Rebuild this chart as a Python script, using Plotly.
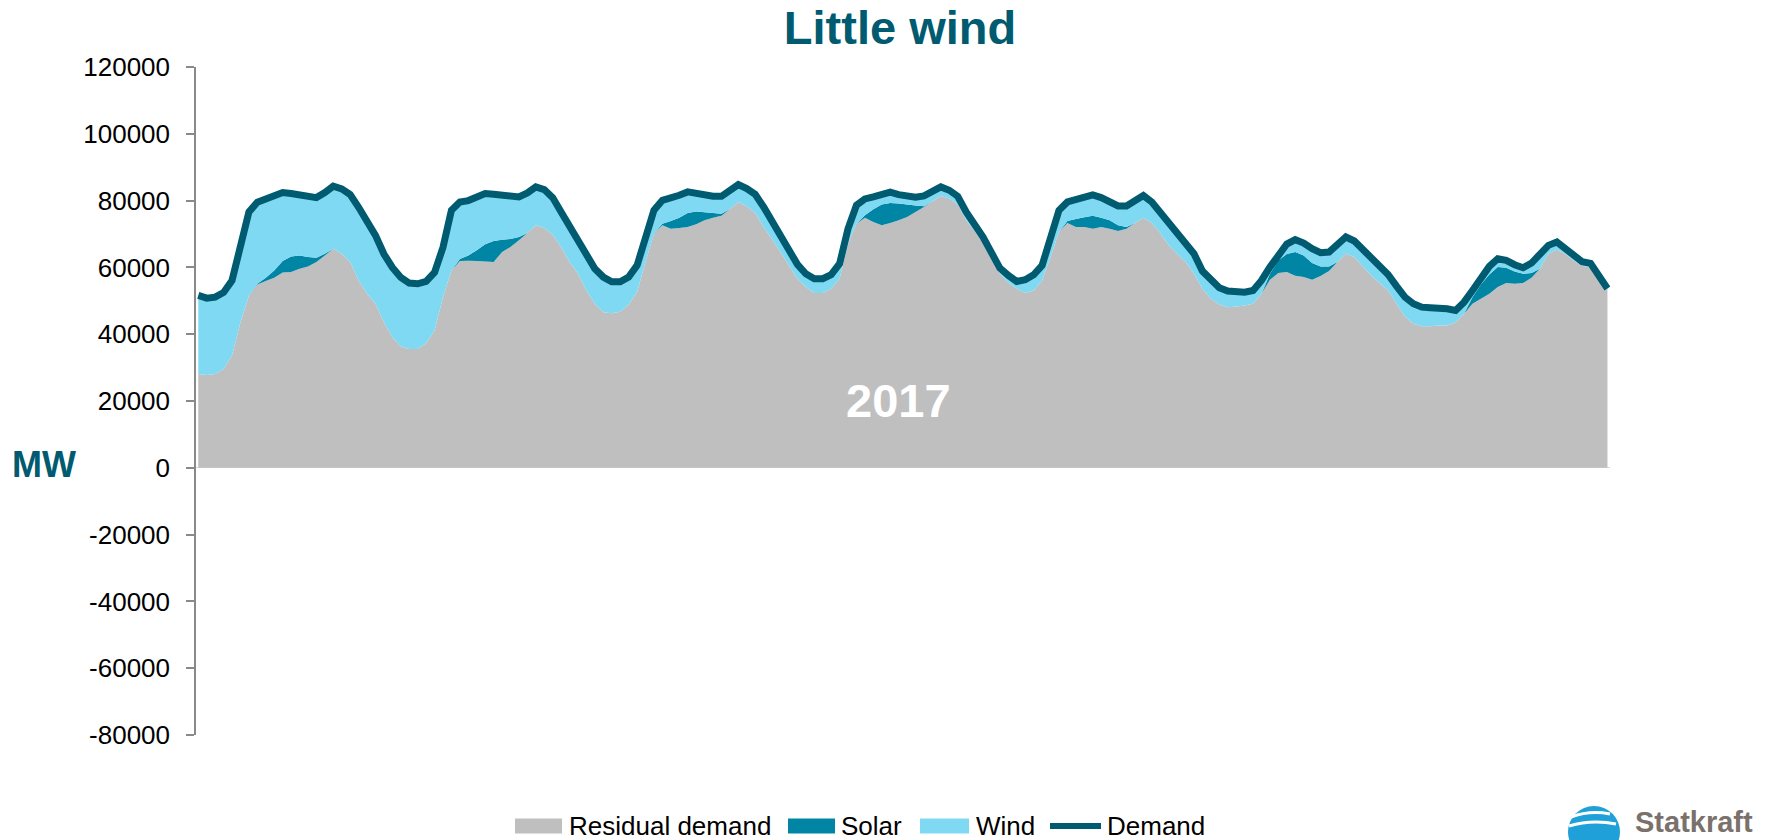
import plotly.graph_objects as go

# ---------------- data (MW, hourly, one week) ----------------
HOURS = list(range(168))

DEMAND = [
    51600, 50800, 51100, 52500, 56100, 66100, 76600, 79500, 80300, 81300,
    82400, 82100, 81800, 81000, 80900, 82400, 84300, 83500, 81800, 78000,
    73600, 69600, 64000, 60000, 57000, 55300, 55100, 55800, 58500, 66000,
    77100, 79600, 80000, 81100, 82100, 81900, 81600, 81100, 81100, 82300,
    84100, 83300, 80900, 76600, 72300, 68100, 63100, 59600, 57100, 55700,
    55700, 57100, 60600, 69100, 77100, 80100, 80600, 81600, 82600, 82100,
    81800, 81300, 81300, 83300, 84800, 83600, 81900, 78100, 73800, 70300,
    65600, 60900, 58100, 56600, 56600, 57800, 61100, 71600, 78600, 80500,
    81100, 81800, 82500, 81800, 81400, 81000, 81400, 82900, 84100, 83100,
    81300, 76600, 72900, 69100, 64400, 59800, 57600, 55800, 56300, 57800,
    60600, 69100, 77100, 79600, 80400, 81200, 81700, 80900, 79600, 78400,
    78400, 79900, 81500, 79600, 76600, 73100, 70100, 67600, 64100, 58900,
    56100, 53900, 52900, 52600, 52600, 53100, 56100, 60100, 63600, 67000,
    68300, 67300, 65600, 64400, 64600, 67100, 69100, 67900, 65300, 62600,
    59900, 57900, 54400, 51100, 49100, 48100, 47900, 47900, 47600, 47100,
    49600, 53100, 56900, 60300, 62600, 62100, 60800, 59900, 61300, 63900,
    66600, 67600, 65600, 63200, 61700, 61200, 57700, 53700,
]

RESIDUAL = [
    28100, 27800, 28100, 29600, 33600, 43600, 51600, 54900, 55900, 56900,
    58500, 58600, 59600, 60300, 61600, 63600, 65600, 64100, 61600, 56100,
    52100, 49100, 43600, 39100, 36300, 35600, 35600, 37300, 41100, 51100,
    59100, 61900, 62000, 61900, 61800, 61600, 64600, 66100, 68100, 70300,
    72600, 71800, 69800, 66100, 61600, 58100, 53100, 49100, 46600, 46300,
    46700, 48900, 52600, 61600, 70100, 72600, 71600, 71800, 72100, 72900,
    74100, 74900, 75500, 77500, 79600, 78300, 76300, 72100, 68400, 64600,
    60600, 56600, 54100, 52300, 52300, 53600, 56600, 67100, 73100, 74900,
    73600, 72600, 73300, 74100, 75100, 76600, 78100, 79800, 81400, 80600,
    78800, 74100, 70900, 67300, 62600, 58100, 55400, 53600, 52300, 53100,
    56100, 63100, 70600, 73300, 72100, 72100, 71600, 72100, 71600, 70900,
    71600, 73300, 74900, 73300, 70300, 66600, 64100, 61600, 58100, 53600,
    50600, 48900, 48100, 48300, 48600, 49100, 52100, 56300, 58300, 58600,
    57500, 57100, 56300, 57400, 58900, 61600, 64100, 63100, 60300, 57600,
    55300, 53100, 49100, 45300, 43100, 42400, 42400, 42600, 42600, 43600,
    46100, 49100, 50600, 52100, 54100, 55300, 55100, 55300, 56900, 59600,
    64100, 65300, 64100, 62000, 60500, 60000, 56500, 53000,
]

SOLAR = [
    0, 0, 0, 0, 0, 0, 0, 200, 1000, 2200,
    3400, 4700, 4000, 2800, 1300, 500, 0, 0, 0, 0,
    0, 0, 0, 0, 0, 0, 0, 0, 0, 0,
    0, 600, 1600, 3200, 5100, 6300, 3700, 2400, 1000, 0,
    0, 0, 0, 0, 0, 0, 0, 0, 0, 0,
    0, 0, 0, 0, 0, 500, 2300, 3100, 4200, 3800,
    2400, 1400, 600, 0, 0, 0, 0, 0, 0, 0,
    0, 0, 0, 0, 0, 0, 0, 0, 0, 700,
    3800, 6200, 6000, 5000, 3700, 1900, 200, 0, 0, 0,
    0, 0, 0, 0, 0, 0, 0, 0, 0, 0,
    0, 0, 0, 600, 2400, 2900, 3900, 2800, 2500, 1700,
    500, 0, 0, 0, 0, 0, 0, 0, 0, 0,
    0, 0, 0, 0, 0, 0, 0, 1800, 3800, 5400,
    7100, 6500, 5000, 2900, 1400, 0, 0, 0, 0, 0,
    0, 0, 0, 0, 0, 0, 0, 0, 0, 0,
    0, 2000, 4300, 5800, 6000, 4600, 3700, 2800, 1400, 0,
    0, 0, 0, 0, 0, 0, 0, 0,
]

WIND = [
    23500, 23000, 23000, 22900, 22500, 22500, 25000, 24400, 23400, 22200,
    20500, 18800, 18200, 17900, 18000, 18300, 18700, 19400, 20200, 21900,
    21500, 20500, 20400, 20900, 20700, 19700, 19500, 18500, 17400, 14900,
    18000, 17100, 16400, 16000, 15200, 14000, 13300, 12600, 12000, 12000,
    11500, 11500, 11100, 10500, 10700, 10000, 10000, 10500, 10500, 9400,
    9000, 8200, 8000, 7500, 7000, 7000, 6700, 6700, 6300, 5400,
    5300, 5000, 5200, 5800, 5200, 5300, 5600, 6000, 5400, 5700,
    5000, 4300, 4000, 4300, 4300, 4200, 4500, 4500, 5500, 4900,
    3700, 3000, 3200, 2700, 2600, 2500, 3100, 3100, 2700, 2500,
    2500, 2500, 2000, 1800, 1800, 1700, 2200, 2200, 4000, 4700,
    4500, 6000, 6500, 5700, 5900, 6200, 6200, 6000, 5500, 5800,
    6300, 6600, 6600, 6300, 6300, 6500, 6000, 6000, 6000, 5300,
    5500, 5000, 4800, 4300, 4000, 4000, 4000, 2000, 1500, 3000,
    3700, 3700, 4300, 4100, 4300, 5500, 5000, 4800, 5000, 5000,
    4600, 4800, 5300, 5800, 6000, 5700, 5500, 5300, 5000, 3500,
    3500, 2000, 2000, 2400, 2500, 2200, 2000, 1800, 3000, 4300,
    2500, 2300, 1500, 1200, 1200, 1200, 1200, 700,
]

SERIES_NAMES = ["Residual demand", "Solar", "Wind", "Demand"]
Y_TICKS = [-80000, -60000, -40000, -20000, 0, 20000, 40000, 60000, 80000, 100000, 120000]
Y_TICK_LABELS = ["-80000", "-60000", "-40000", "-20000", "0", "20000",
                 "40000", "60000", "80000", "100000", "120000"]
TITLE = "Little wind"
YEAR_LABEL = "2017"
UNIT_LABEL = "MW"
LOGO_TEXT = "Statkraft"

# ---------------- style / geometry ----------------
COL_RES = "#BFBFBF"
COL_SOLAR = "#0085A4"
COL_WIND = "#80D9F2"
COL_DEM = "#005A70"
FONT = "Liberation Sans, Arial, sans-serif"

W, H = 1791, 840
PLOT_L, PLOT_R, PLOT_T, PLOT_B = 196, 1610, 67, 735   # page pixels
ML, MR, MT, MB = PLOT_L, W - PLOT_R, PLOT_T, H - PLOT_B
PW = W - ML - MR
PH = H - MT - MB


def px(x):
    return (x - PLOT_L) / PW


def py(y):
    return (PLOT_B - y) / PH


fig = go.Figure()
fig.add_trace(go.Scatter(x=HOURS, y=RESIDUAL, name=SERIES_NAMES[0], stackgroup="s",
                         mode="none", fillcolor=COL_RES, showlegend=False))
fig.add_trace(go.Scatter(x=HOURS, y=SOLAR, name=SERIES_NAMES[1], stackgroup="s",
                         mode="none", fillcolor=COL_SOLAR, showlegend=False))
fig.add_trace(go.Scatter(x=HOURS, y=WIND, name=SERIES_NAMES[2], stackgroup="s",
                         mode="none", fillcolor=COL_WIND, showlegend=False))
fig.add_trace(go.Scatter(x=HOURS, y=DEMAND, name=SERIES_NAMES[3], mode="lines",
                         line=dict(color=COL_DEM, width=7), showlegend=False))

shapes = []
annotations = []

# manual legend (bottom centre)
leg_y = 826
swatches = [(515, 562, COL_RES, 567, SERIES_NAMES[0]),
            (788, 835, COL_SOLAR, 839, SERIES_NAMES[1]),
            (920, 969, COL_WIND, 974, SERIES_NAMES[2])]
for x0, x1, col, tx, name in swatches:
    shapes.append(dict(type="rect", xref="paper", yref="paper",
                       x0=px(x0), x1=px(x1), y0=py(leg_y - 7.5), y1=py(leg_y + 7.5),
                       fillcolor=col, line=dict(width=0)))
    annotations.append(dict(text=name, xref="paper", yref="paper", x=px(tx), y=py(leg_y),
                            xanchor="left", yanchor="middle", showarrow=False,
                            font=dict(family=FONT, size=26, color="#000000")))
shapes.append(dict(type="line", xref="paper", yref="paper",
                   x0=px(1050), x1=px(1101), y0=py(leg_y), y1=py(leg_y),
                   line=dict(color=COL_DEM, width=6)))
annotations.append(dict(text=SERIES_NAMES[3], xref="paper", yref="paper", x=px(1105), y=py(leg_y),
                        xanchor="left", yanchor="middle", showarrow=False,
                        font=dict(family=FONT, size=26, color="#000000")))

# unit label
annotations.append(dict(text=UNIT_LABEL, xref="paper", yref="paper", x=px(44), y=py(464),
                        xanchor="center", yanchor="middle", showarrow=False,
                        font=dict(family=FONT, size=36, color=COL_DEM, weight="bold")))

# year label in plot
annotations.append(dict(text=YEAR_LABEL, xref="x", yref="y", x=83, y=20200,
                        xanchor="center", yanchor="middle", showarrow=False,
                        font=dict(family=FONT, size=47, color="#FFFFFF", weight="bold")))

# logo (bottom right)
shapes.append(dict(type="circle", xref="paper", yref="paper",
                   x0=px(1568), x1=px(1620), y0=py(806), y1=py(858),
                   fillcolor="#1FA0D8", line=dict(width=0), layer="above"))
for (a, b, c, d, e, f) in [(1571, 817, 1590, 810, 1610, 814), (1569, 826, 1592, 819, 1616, 824)]:
    shapes.append(dict(type="path", xref="paper", yref="paper",
                       path=f"M {px(a)},{py(b)} Q {px(c)},{py(d)} {px(e)},{py(f)}",
                       line=dict(color="#FFFFFF", width=3), layer="above"))
annotations.append(dict(text=LOGO_TEXT, xref="paper", yref="paper", x=px(1633), y=py(822),
                        xanchor="left", yanchor="middle", showarrow=False,
                        font=dict(family=FONT, size=29, color="#7B716C", weight="bold")))

fig.update_layout(
    width=W, height=H, autosize=False,
    margin=dict(l=ML, r=MR, t=MT, b=MB, pad=0),
    paper_bgcolor="#FFFFFF", plot_bgcolor="#FFFFFF",
    title=dict(text=TITLE, x=900 / W, xref="container", xanchor="center",
               y=1 - 28 / H, yref="container", yanchor="middle",
               font=dict(family=FONT, size=47, color=COL_DEM, weight="bold")),
    showlegend=False,
    hovermode=False,
    shapes=shapes,
    annotations=annotations,
    xaxis=dict(range=[-0.27, 167.3], showticklabels=False, showgrid=False,
               zeroline=False, showline=False, ticks=""),
    yaxis=dict(range=[-80000, 120000], tickvals=Y_TICKS, ticktext=Y_TICK_LABELS,
               showgrid=False, zeroline=True, zerolinecolor="#D9D9D9", zerolinewidth=1,
               showline=True, linecolor="#898989", linewidth=1.5,
               ticks="outside", ticklen=8, tickcolor="#898989", tickwidth=1.5,
               ticklabelstandoff=11,
               tickfont=dict(family=FONT, size=26, color="#000000")),
)

fig.write_html("out.html", config={"displayModeBar": False},
               post_script="document.body.style.margin='0px';")
